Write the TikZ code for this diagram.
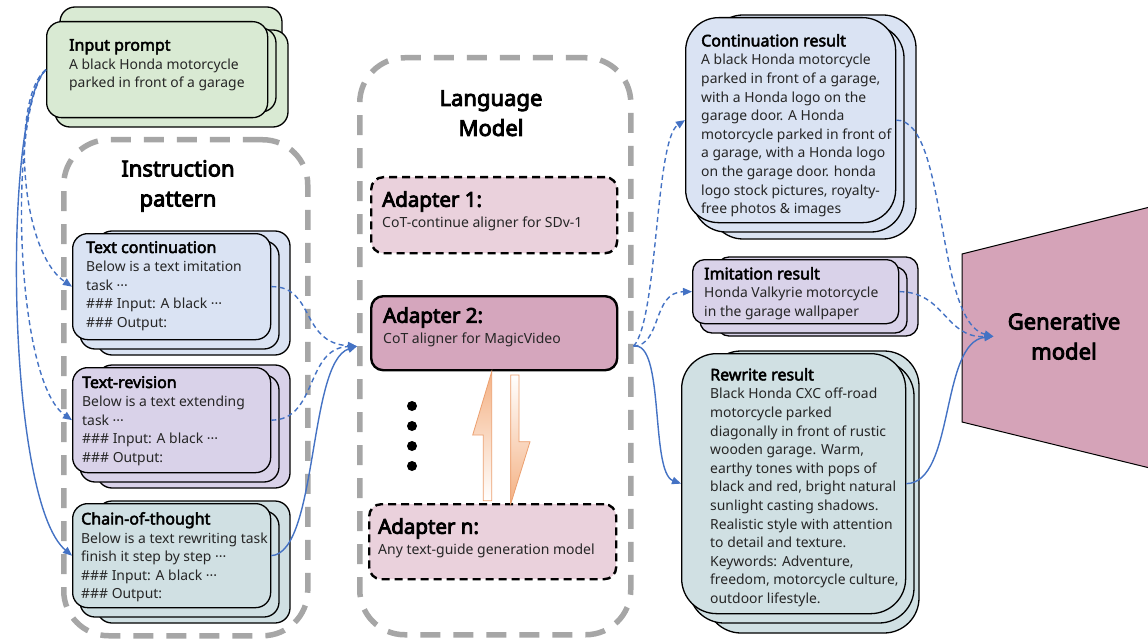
\documentclass[tikz,border=0pt]{standalone}
\usepackage{fontspec}
\setmainfont{Noto Sans}[BoldFont={Noto Sans}, BoldFeatures={FakeBold=3}]
\newfontfamily\headfont{Noto Sans}[FakeBold=4]
\usetikzlibrary{arrows.meta,calc}

\definecolor{ipgreen}{RGB}{217,234,211}
\definecolor{tcblue}{RGB}{218,227,243}
\definecolor{trlav}{RGB}{217,210,233}
\definecolor{cotteal}{RGB}{208,224,227}
\definecolor{adlight}{RGB}{234,209,220}
\definecolor{admid}{RGB}{213,166,189}
\definecolor{genpink}{RGB}{213,163,184}
\definecolor{flowblue}{RGB}{68,114,196}
\definecolor{framegrey}{RGB}{166,166,166}
\definecolor{bolt}{RGB}{244,177,131}
\definecolor{boltedge}{RGB}{236,160,112}
\definecolor{bodyink}{RGB}{38,38,38}

\newcommand\cardtitle{\fontsize{16}{18.6}\selectfont\bfseries\color{black}}
\newcommand\adtitle{\fontsize{20.5}{20.5}\headfont\color{black}}

\tikzset{
  card/.style={draw=black, line width=1.3pt},
  body/.style={anchor=north west, align=left, inner sep=0pt, text=bodyink, font=\fontsize{13.9}{18.6}\selectfont},
  adtext/.style={anchor=north west, align=left, inner sep=0pt, text=bodyink, font=\fontsize{14}{20.5}\selectfont},
  group/.style={draw=framegrey, line width=5.5pt, dash pattern=on 20pt off 13pt,
                rounded corners=45pt, anchor=north west, inner sep=0pt},
  grouptitle/.style={anchor=north, align=center, inner sep=0pt, font=\fontsize{22}{30}\headfont},
  adapterbox/.style={draw=black, line width=2.4pt, rounded corners=12pt, anchor=north west, inner sep=0pt},
  adapterdash/.style={adapterbox, dash pattern=on 8pt off 5pt},
  flow/.style={draw=flowblue, line width=1.4pt, -{Triangle[length=9pt,width=7.5pt]}},
  flowdash/.style={flow, dash pattern=on 5pt off 3.5pt},
  boltshape/.style={draw=boltedge, line width=0.8pt},
}

% three stacked cards; the front one is a named node
% #1 name, #2-#5 front corners, #6 fill, #7 radius, #8 back right shift, #9 back bottom shift
\newcommand\cardstack[9]{%
  \draw[card, fill=#6, rounded corners=#7pt] (#2+25,#3-2) rectangle (#4+#8,#5+#9);
  \draw[card, fill=#6, rounded corners=#7pt] (#2+8,#3+8) rectangle (#4+9,#5+10);
  \node[card, fill=#6, rounded corners=#7pt, anchor=north west, inner sep=0pt,
        minimum width={(#4-#2)*1pt}, minimum height={(#5-#3)*1pt}] (#1) at (#2,#3) {};
}

\begin{document}
\begin{tikzpicture}[x=1pt, y=-1pt]
\path[use as bounding box] (0,0) rectangle (1148,639);
\fill[white] (0,0) rectangle (1148,639);

% dashed group frames
\node[group, minimum width=244pt, minimum height=496pt] (ip) at (61,137) {};
\node[grouptitle] (ip-t) at (178,160) {Instruction\\pattern};
\node[group, minimum width=271pt, minimum height=577pt] (lm) at (357,55) {};
\node[grouptitle] (lm-t) at (491,90) {Language\\Model};

% input prompt
\draw[card, fill=ipgreen, rounded corners=15pt] (60,7) rectangle (282,110);
\draw[card, fill=ipgreen, rounded corners=15pt] (55,30) rectangle (288,127);
\draw[card, fill=ipgreen, rounded corners=15pt] (50,28) rectangle (276,112);
\node[card, fill=ipgreen, rounded corners=15pt, anchor=north west, inner sep=0pt,
      minimum width=221pt, minimum height=96pt] (inp) at (46,21) {};
\node[body] (inp-t) at (69,39) {{\cardtitle Input prompt}\\A black Honda motorcycle\\parked in front of a garage};

% instruction patterns
\cardstack{tc}{72}{233}{270}{339}{tcblue}{15}{20}{16}
\node[body] (tc-t) at (86,241) {{\cardtitle Text continuation}\\Below is a text imitation\\task ···\\\#\#\# Input: A black ···\\\#\#\# Output:};
\cardstack{tr}{72}{367}{270}{472}{trlav}{15}{20}{16}
\node[body] (tr-t) at (82,376) {{\cardtitle Text-revision}\\Below is a text extending\\task ···\\\#\#\# Input: A black ···\\\#\#\# Output:};
\cardstack{cot}{72}{503}{270}{607}{cotteal}{15}{20}{16}
\node[body] (cot-t) at (81,512) {{\cardtitle Chain-of-thought}\\Below is a text rewriting task\\finish it step by step ···\\\#\#\# Input: A black ···\\\#\#\# Output:};

% adapters
\node[adapterdash, fill=adlight, minimum width=246pt, minimum height=76pt] (ad1) at (370,176) {};
\node[adtext] (ad1-t) at (382,191) {{\adtitle Adapter 1:}\\CoT-continue aligner for SDv-1};
\node[adapterbox, fill=admid, minimum width=246pt, minimum height=74pt] (ad2) at (370,295) {};
\node[adtext] (ad2-t) at (383,307) {{\adtitle Adapter 2:}\\CoT aligner for MagicVideo};
\node[adapterdash, fill=adlight, minimum width=247pt, minimum height=75pt] (adn) at (368,503) {};
\node[adtext] (adn-t) at (378,518) {{\adtitle Adapter n:}\\Any text-guide generation model};

% vertical ellipsis
\foreach \yy in {406,426,446,466} \fill (412,\yy) circle[radius=5pt];

% exchange arrows between adapters
\shade[boltshape, top color=bolt, middle color=bolt, bottom color=white]
  (472.7,435) -- (491.7,371.7) -- (491.7,500.7) -- (483.3,500.7) -- (483.3,435) -- cycle;
\shade[boltshape, top color=white, middle color=bolt, bottom color=bolt]
  (510.7,375) -- (519,375) -- (519,441.7) -- (530,441.7) -- (510.7,504) -- cycle;

% results
\cardstack{cr}{685}{17}{895}{222}{tcblue}{33}{21}{17}
\node[body] (cr-t) at (701,34) {{\cardtitle Continuation result}\\A black Honda motorcycle\\parked in front of a garage,\\with a Honda logo on the\\garage door. A Honda\\motorcycle parked in front of\\a garage, with a Honda logo\\on the garage door. honda\\logo stock pictures, royalty-\\free photos \& images};
\cardstack{ir}{692}{259}{898}{323}{trlav}{12}{20}{13}
\node[body] (ir-t) at (704,267) {{\cardtitle Imitation result}\\Honda Valkyrie motorcycle\\in the garage wallpaper};
\cardstack{rr}{681}{353}{905}{613}{cotteal}{35}{14}{20}
\node[body] (rr-t) at (710,368) {{\cardtitle Rewrite result}\\Black Honda CXC off-road\\motorcycle parked\\diagonally in front of rustic\\wooden garage. Warm,\\earthy tones with pops of\\black and red, bright natural\\sunlight casting shadows.\\Realistic style with attention\\to detail and texture.\\Keywords: Adventure,\\freedom, motorcycle culture,\\outdoor lifestyle.};

% generative model
\begin{scope}
  \clip (0,0) rectangle (1148,639);
  \draw[fill=genpink, line width=1pt] (962,254) -- (1160,204.5) -- (1160,470.5) -- (962,422) -- cycle;
\end{scope}
\node[grouptitle, inner xsep=14pt] (gm) at (1064,313) {Generative\\model};

% prompt into instruction patterns
\draw[flowdash] (inp.west) .. controls (12,95) and (18,250) .. (tc.west);
\draw[flowdash] (inp.west) .. controls (8,110) and (14,380) .. (tr.west);
\draw[flow] (inp.west) .. controls (2,110) and (6,500) .. (cot.west);

% instruction patterns into the language model
\draw[flowdash] (tc.east) .. controls (315,286) and (300,343) .. (lm.west);
\draw[flowdash] (tr.east) .. controls (318,420) and (305,348) .. (lm.west);
\draw[flow] (cot.east) .. controls (318,553) and (308,362) .. (lm.west);

% language model outputs
\draw[flowdash] (lm.east) .. controls (658,320) and (655,140) .. (cr.west);
\draw[flowdash] (lm.east) .. controls (662,345) and (652,292) .. (ir.west);
\draw[flow] (lm.east) .. controls (665,340) and (650,472) .. (rr.west);

% results into the generative model
\draw[flowdash] (cr.east) .. controls (948,120) and (935,322) .. (gm.west);
\draw[flowdash] (ir.east) .. controls (945,292) and (945,338) .. (gm.west);
\draw[flow] (rr.east) .. controls (955,483) and (940,342) .. (gm.west);
\end{tikzpicture}
\end{document}
